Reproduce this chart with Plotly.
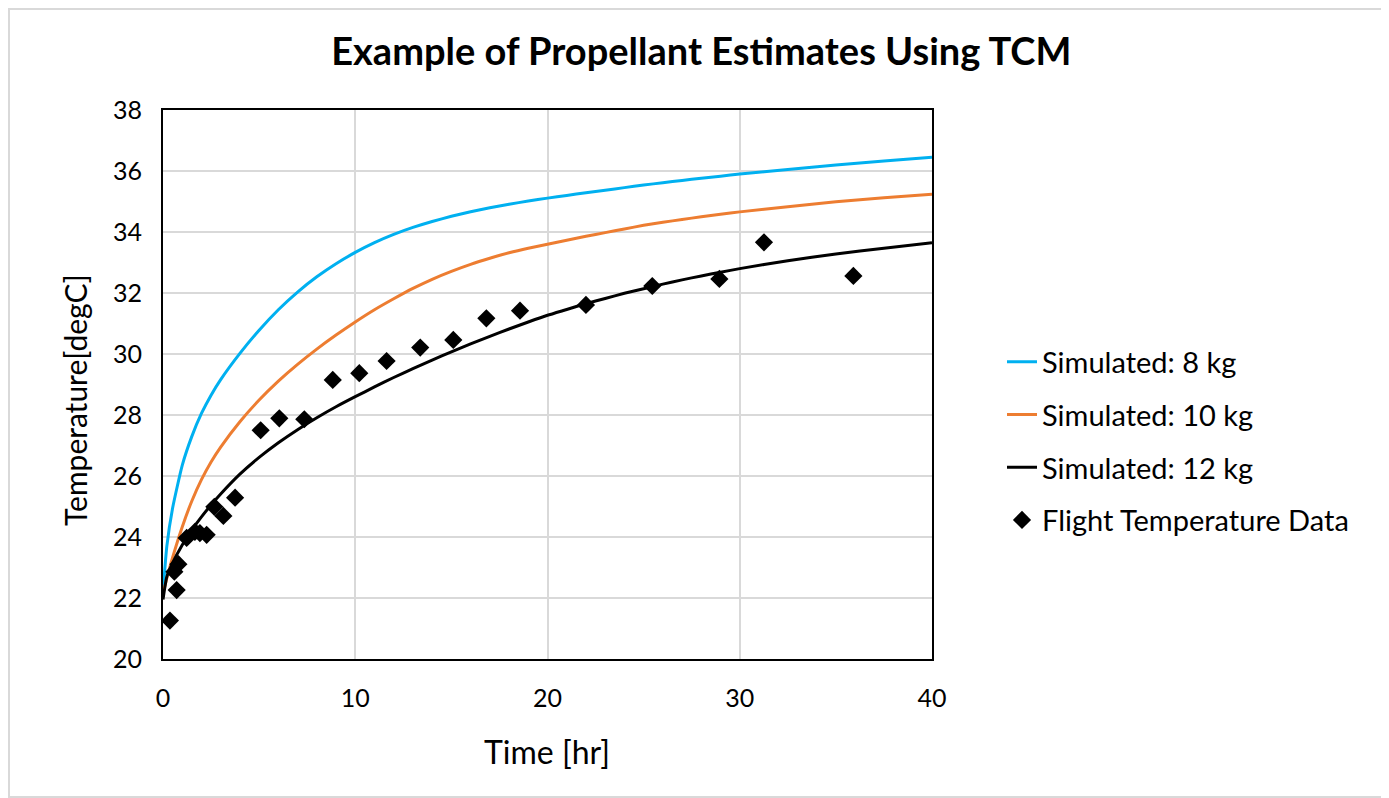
import plotly.graph_objects as go

# Simulated curves
t_8kg = [0, 0.2, 0.5, 1, 1.5, 2, 2.5, 3, 4, 5, 6, 7, 8, 9, 10, 11, 12, 13, 14, 15, 16, 17, 18, 19, 20,
         21, 22, 23, 24, 25, 26, 27, 28, 29, 30, 32.5, 35, 37.5, 40]
T_8kg = [22.2, 23.7, 24.95, 26.35, 27.3, 28.05, 28.65, 29.16, 30.02, 30.78, 31.45, 32.03, 32.53, 32.96, 33.33,
         33.65, 33.92, 34.15, 34.345, 34.515, 34.665, 34.795, 34.91, 35.015, 35.11,
         35.2, 35.29, 35.37, 35.455, 35.54, 35.615, 35.69, 35.765, 35.83, 35.9, 36.05, 36.2, 36.33, 36.45]

t_10kg = [0, 0.2, 0.5, 1, 1.5, 2, 2.5, 3, 4, 5, 6, 7, 8, 9, 10, 11, 12, 13, 14, 15, 16, 17, 18, 19, 20,
          21, 22, 23, 24, 25, 26, 27, 28, 29, 30, 32.5, 35, 37.5, 40]
T_10kg = [22.15, 22.65, 23.33, 24.33, 25.18, 25.88, 26.46, 26.95, 27.78, 28.49, 29.11, 29.66, 30.16, 30.62,
          31.05, 31.45, 31.81, 32.15, 32.45, 32.71, 32.94, 33.14, 33.32, 33.47, 33.6,
          33.73, 33.86, 33.98, 34.1, 34.22, 34.32, 34.41, 34.5, 34.58, 34.66, 34.83, 34.99, 35.12, 35.24]

t_12kg = [0, 0.2, 0.5, 1, 1.5, 2, 2.5, 3, 4, 5, 6, 7, 8, 9, 10, 11, 12, 13, 14, 15, 16, 17, 18, 19, 20,
          21, 22, 23, 24, 25, 26, 27, 28, 29, 30, 32.5, 35, 37.5, 40]
T_12kg = [21.95, 22.7, 23.15, 23.74, 24.23, 24.66, 25.05, 25.41, 26.06, 26.61, 27.09, 27.52, 27.91, 28.27,
          28.6, 28.92, 29.23, 29.52, 29.8, 30.07, 30.33, 30.58, 30.82, 31.05, 31.27,
          31.46, 31.65, 31.82, 31.99, 32.14, 32.29, 32.43, 32.56, 32.68, 32.8, 33.06, 33.28, 33.47, 33.65]

# Flight data
t_flight = [0.36, 0.71, 0.59, 0.80, 1.23, 1.66, 1.92, 2.27, 2.67, 3.14, 3.75, 5.08, 6.05, 7.35,
            8.83, 10.21, 11.63, 13.38, 15.10, 16.82, 18.57, 22.0, 25.45, 28.94, 31.26, 35.91]
T_flight = [21.26, 22.26, 22.86, 23.11, 23.97, 24.17, 24.13, 24.07, 24.99, 24.69, 25.29, 27.5, 27.89, 27.86,
            29.15, 29.37, 29.77, 30.21, 30.46, 31.17, 31.42, 31.61, 32.23, 32.46, 33.66, 32.56]

x_ticks = [0, 10, 20, 30, 40]
y_ticks = [20, 22, 24, 26, 28, 30, 32, 34, 36, 38]

FONT = "Lato"
W, H = 1381, 790
L, T, PW, PH = 155, 102, 769, 549
OFF = 8  # page offset of the figure


def px_x(page_x):
    return (page_x - OFF - L) / PW


def px_y(page_y):
    return (T + PH - (page_y - OFF)) / PH


fig = go.Figure()
fig.add_trace(go.Scatter(x=t_8kg, y=T_8kg, mode="lines", name="Simulated: 8 kg", legendgroup="a",
                         line=dict(color="#00B0F0", width=3, shape="spline", smoothing=0.5)))
fig.add_trace(go.Scatter(x=t_10kg, y=T_10kg, mode="lines", name="Simulated: 10 kg", legendgroup="b",
                         line=dict(color="#ED7D31", width=3, shape="spline", smoothing=0.5)))
fig.add_trace(go.Scatter(x=t_12kg, y=T_12kg, mode="lines", name="Simulated: 12 kg", legendgroup="c",
                         line=dict(color="#000000", width=3, shape="spline", smoothing=0.5)))
fig.add_trace(go.Scatter(x=t_flight, y=T_flight, mode="markers", name="Flight Temperature Data",
                         legendgroup="d", marker=dict(symbol="diamond", size=14, color="#000000")))

fig.update_layout(
    width=W, height=H,
    margin=dict(l=L, r=W - L - PW, t=T, b=H - T - PH),
    paper_bgcolor="white", plot_bgcolor="white",
    font=dict(family=FONT, color="#000000"),
    title=dict(text="<b>Example of Propellant Estimates Using TCM</b>", x=0.502, xanchor="center",
               y=1 - 44 / H, yanchor="middle", font=dict(size=38, family=FONT, color="#000000")),
    xaxis=dict(range=[0, 40], tickvals=x_ticks, showgrid=True, gridcolor="#D9D9D9", gridwidth=2,
               showline=True, linecolor="#000000", linewidth=2, mirror=True, zeroline=False,
               ticks="", tickfont=dict(size=25, family=FONT), ticklabelstandoff=16),
    yaxis=dict(range=[20, 38], tickvals=y_ticks, showgrid=True, gridcolor="#D9D9D9", gridwidth=2,
               showline=True, linecolor="#000000", linewidth=2, mirror=True, zeroline=False,
               ticks="", tickfont=dict(size=25, family=FONT), ticklabelstandoff=14),
    legend=dict(x=px_x(1002), xanchor="left", y=px_y(441), yanchor="middle",
                font=dict(size=29, family=FONT), tracegroupgap=12, bgcolor="rgba(0,0,0,0)"),
    annotations=[
        dict(text="Time [hr]", xref="paper", yref="paper", x=px_x(547), y=px_y(751),
             xanchor="center", yanchor="middle", showarrow=False, font=dict(size=32, family=FONT)),
        dict(text="Temperature[degC]", xref="paper", yref="paper", x=px_x(75), y=px_y(400),
             xanchor="center", yanchor="middle", textangle=-90, showarrow=False,
             font=dict(size=30, family=FONT)),
    ],
    shapes=[dict(type="rect", xref="paper", yref="paper",
                 x0=(1 - L) / PW, x1=(W - 1 - L) / PW,
                 y0=(T + PH - (H - 1)) / PH, y1=(T + PH - 1) / PH,
                 line=dict(color="#D9D9D9", width=2), layer="below")],
)

fig.write_html("out.html")
